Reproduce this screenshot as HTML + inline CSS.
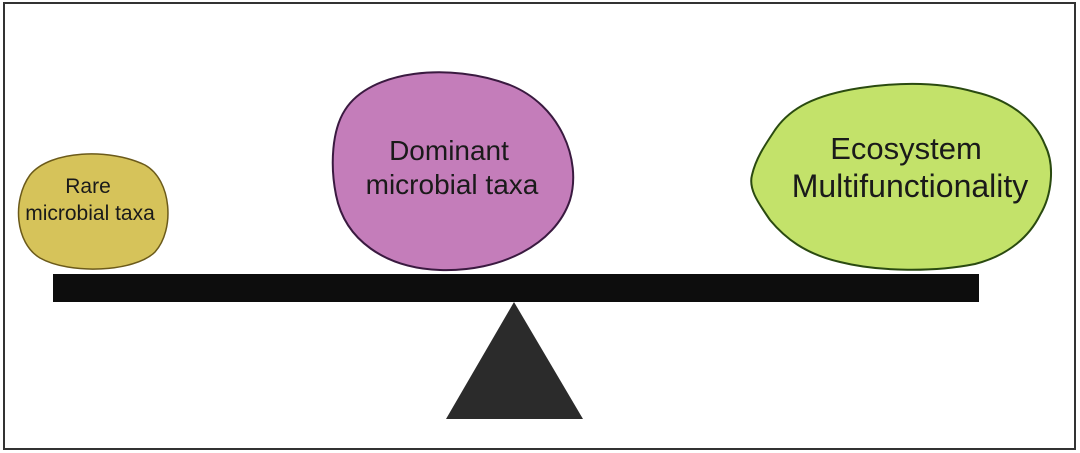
<!DOCTYPE html>
<html><head><meta charset="utf-8"><style>
html,body{margin:0;padding:0;background:#fff;}
svg{display:block;}
text{font-family:"Liberation Sans",Arial,sans-serif;fill:#1a1a1a;}
</style></head><body>
<svg width="1080" height="453" viewBox="0 0 1080 453" xmlns="http://www.w3.org/2000/svg">
<rect x="0" y="0" width="1080" height="453" fill="#fff"/>
<rect x="4" y="3" width="1071" height="446" fill="none" stroke="#333" stroke-width="2"/>
<path d="M30,175 C50,150 110,148 145,165 C172,180 175,230 155,252 C135,272 70,275 40,258 C15,243 12,200 30,175 Z" fill="#d6c35a" stroke="#6b5a1a" stroke-width="1.5"/>
<text x="88" y="193" font-size="21" text-anchor="middle">Rare</text>
<text x="90" y="220" font-size="21" text-anchor="middle">microbial taxa</text>
<path d="M345,110 C370,70 450,62 510,85 C560,105 582,160 570,200 C555,245 500,272 440,270 C385,268 345,240 336,195 C330,165 332,130 345,110 Z" fill="#c47dba" stroke="#3a1a40" stroke-width="2"/>
<text x="449" y="160" font-size="28" text-anchor="middle">Dominant</text>
<text x="452" y="194" font-size="28" text-anchor="middle">microbial taxa</text>
<path d="M775,130 C790,108 815,95 860,88 C900,82 940,82 975,92 C1010,100 1035,120 1045,145 C1055,165 1052,195 1040,215 C1030,235 1010,255 975,264 C935,272 880,272 840,262 C805,254 785,238 770,220 C760,205 748,190 752,175 C756,158 765,145 775,130 Z" fill="#c3e26a" stroke="#2a4a10" stroke-width="2"/>
<text x="906" y="159" font-size="31" text-anchor="middle">Ecosystem</text>
<text x="910" y="197" font-size="32" text-anchor="middle">Multifunctionality</text>
<rect x="53" y="274" width="926" height="28" fill="#0d0d0d"/>
<polygon points="514,302 446,419 583,419" fill="#2b2b2b"/>
</svg>
</body></html>
